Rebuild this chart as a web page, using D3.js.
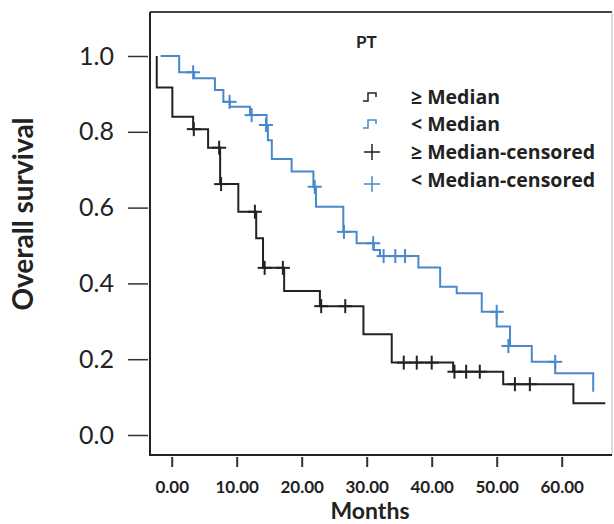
<!DOCTYPE html>
<html>
<head>
<meta charset="utf-8">
<script src="https://cdn.jsdelivr.net/npm/d3@7"></script>
<style>
  body { margin: 0; background: #fff; }
  svg { display: block; }
  text { font-family: Lato, "Open Sans", sans-serif; fill: #222; }
</style>
</head>
<body>
<div id="chart"></div>
<script>
// step points (time in months, survival after the step)
const blackTimes = [-2.3, -2.3, 0.1, 3.3, 5.6, 7.45, 10.25, 13.0, 14.05, 17.3, 22.8, 29.5, 33.85, 43.3, 51.0, 61.8, 66.7];
const blackSurv  = [1.0, 0.917, 0.840, 0.807, 0.758, 0.662, 0.589, 0.519, 0.441, 0.380, 0.340, 0.266, 0.191, 0.167, 0.134, 0.084, 0.084];

const blueTimes = [-1.7, 1.15, 3.45, 6.65, 7.95, 8.95, 12.05, 14.6, 14.8, 15.4, 18.45, 21.8, 22.2, 26.4, 28.45, 31.1, 32.05, 37.95, 41.3, 43.85, 47.7, 50.0, 52.05, 55.4, 59.0, 64.85];
const blueSurv  = [1.0, 0.957, 0.941, 0.910, 0.879, 0.866, 0.844, 0.818, 0.778, 0.728, 0.695, 0.655, 0.602, 0.536, 0.506, 0.488, 0.472, 0.442, 0.391, 0.374, 0.325, 0.286, 0.235, 0.193, 0.163, 0.114];

// censored observations
const blackCensT = [3.4, 7.3, 7.6, 12.8, 14.3, 17.1, 23.0, 26.7, 35.7, 37.7, 40.0, 43.5, 45.3, 47.4, 52.8, 55.1];
const blackCensS = [0.807, 0.758, 0.662, 0.589, 0.441, 0.441, 0.340, 0.340, 0.191, 0.191, 0.191, 0.167, 0.167, 0.167, 0.134, 0.134];
const blueCensT = [3.3, 8.9, 12.3, 14.5, 22.0, 26.5, 31.0, 32.6, 34.4, 35.9, 50.0, 51.8, 59.0];
const blueCensS = [0.957, 0.879, 0.844, 0.818, 0.655, 0.536, 0.506, 0.472, 0.472, 0.472, 0.325, 0.235, 0.193];

const xTicks = [0, 10, 20, 30, 40, 50, 60];
const yTicks = [0, 0.2, 0.4, 0.6, 0.8, 1.0];
const legendLabels = ['\u2265 Median', '< Median', '\u2265  Median-censored', '< Median-censored'];

const BLACK = '#222';
const BLUE = '#4a88cc';

const width = 614, height = 524;
const frame = { left: 150, right: 612, top: 12, bottom: 455 };

const svg = d3.select('#chart').append('svg')
    .attr('width', width)
    .attr('height', height);

const x = d3.scaleLinear().domain([0, 60]).range([171.7, 561.7]);
const y = d3.scaleLinear().domain([0, 1]).range([435, 56]);

// frame
svg.append('line')
    .attr('x1', frame.left).attr('x2', frame.right)
    .attr('y1', frame.top).attr('y2', frame.top)
    .attr('stroke', '#444').attr('stroke-width', 2);
svg.append('line')
    .attr('x1', frame.right).attr('x2', frame.right)
    .attr('y1', frame.top).attr('y2', frame.bottom)
    .attr('stroke', '#bbb').attr('stroke-width', 1);
svg.append('line')
    .attr('x1', frame.left).attr('x2', frame.left)
    .attr('y1', frame.top).attr('y2', frame.bottom + 1)
    .attr('stroke', '#222').attr('stroke-width', 2);
svg.append('line')
    .attr('x1', frame.left).attr('x2', frame.right)
    .attr('y1', frame.bottom).attr('y2', frame.bottom)
    .attr('stroke', '#222').attr('stroke-width', 2);

// x axis
const xAxis = d3.axisBottom(x)
    .tickValues(xTicks)
    .tickSize(10)
    .tickPadding(14)
    .tickFormat(d3.format('.2f'));
const gx = svg.append('g')
    .attr('transform', 'translate(0,' + (frame.bottom + 2) + ')')
    .call(xAxis);
gx.select('.domain').remove();
gx.selectAll('.tick line').attr('stroke', '#333').attr('stroke-width', 2);
gx.selectAll('.tick text')
    .style('font-size', '17px')
    .style('font-weight', 'bold')
    .attr('fill', '#222');

// y axis
const yAxis = d3.axisLeft(y)
    .tickValues(yTicks)
    .tickSize(20)
    .tickPadding(14)
    .tickFormat(d3.format('.1f'));
const gy = svg.append('g')
    .attr('transform', 'translate(' + (frame.left - 2) + ',0)')
    .call(yAxis);
gy.select('.domain').remove();
gy.selectAll('.tick line').attr('stroke', '#333').attr('stroke-width', 1.5);
gy.selectAll('.tick text')
    .style('font-size', '25px')
    .attr('fill', '#222');

// axis titles
svg.append('text')
    .attr('x', 370).attr('y', 519)
    .attr('text-anchor', 'middle')
    .style('font-size', '23px')
    .style('font-weight', 'bold')
    .text('Months');

svg.append('text')
    .attr('transform', 'translate(33,214) rotate(-90)')
    .attr('text-anchor', 'middle')
    .style('font-size', '28px')
    .style('font-weight', 'bold')
    .text('Overall survival');

// survival curves
const stepLine = d3.line()
    .x((d) => x(d[0]))
    .y((d) => y(d[1]))
    .curve(d3.curveStepAfter);

const blue = blueTimes.map((t, i) => [t, blueSurv[i]]);
const black = blackTimes.map((t, i) => [t, blackSurv[i]]);

svg.append('path')
    .datum(blue)
    .attr('d', stepLine)
    .attr('fill', 'none')
    .attr('stroke', BLUE)
    .attr('stroke-width', 2);

svg.append('path')
    .datum(black)
    .attr('d', stepLine)
    .attr('fill', 'none')
    .attr('stroke', BLACK)
    .attr('stroke-width', 2);

// censor marks
const drawCensor = (times, surv, color) => {
    const pts = times.map((t, i) => [t, surv[i]]);
    const g = svg.append('g');
    g.selectAll('.cv')
        .data(pts)
        .enter()
        .append('line')
        .attr('x1', (d) => x(d[0])).attr('x2', (d) => x(d[0]))
        .attr('y1', (d) => y(d[1]) - 7).attr('y2', (d) => y(d[1]) + 7)
        .attr('stroke', color).attr('stroke-width', 2);
    g.selectAll('.ch')
        .data(pts)
        .enter()
        .append('line')
        .attr('x1', (d) => x(d[0]) - 7).attr('x2', (d) => x(d[0]) + 7)
        .attr('y1', (d) => y(d[1])).attr('y2', (d) => y(d[1]))
        .attr('stroke', color).attr('stroke-width', 2);
};
drawCensor(blueCensT, blueCensS, BLUE);
drawCensor(blackCensT, blackCensS, BLACK);

// legend
svg.append('text')
    .attr('x', 356).attr('y', 48)
    .style('font-size', '17px')
    .style('font-weight', 'bold')
    .text('PT');

const legendY = [97, 124, 152, 180];
const legendColors = [BLACK, BLUE, BLACK, BLUE];

legendLabels.forEach((label, i) => {
    const ly = legendY[i];
    const c = legendColors[i];
    if (i < 2) {
        const icon = [[363, ly + 4], [368, ly + 4], [368, ly - 4], [376, ly - 4], [376, ly]];
        svg.append('path')
            .attr('d', d3.line()(icon))
            .attr('fill', 'none')
            .attr('stroke', c)
            .attr('stroke-width', 1.5);
    } else {
        const cx = 372, cy = ly + (i === 3 ? 4 : 0);
        svg.append('line')
            .attr('x1', cx - 8).attr('x2', cx + 8)
            .attr('y1', cy).attr('y2', cy)
            .attr('stroke', c).attr('stroke-width', 1.5);
        svg.append('line')
            .attr('x1', cx).attr('x2', cx)
            .attr('y1', cy - 8).attr('y2', cy + 8)
            .attr('stroke', c).attr('stroke-width', 1.5);
    }
    svg.append('text')
        .attr('x', 411)
        .attr('y', ly + 7)
        .style('font-family', '"Open Sans", sans-serif')
        .style('font-size', '19.5px')
        .style('font-weight', 'bold')
        .text(label);
});
</script>
</body>
</html>
